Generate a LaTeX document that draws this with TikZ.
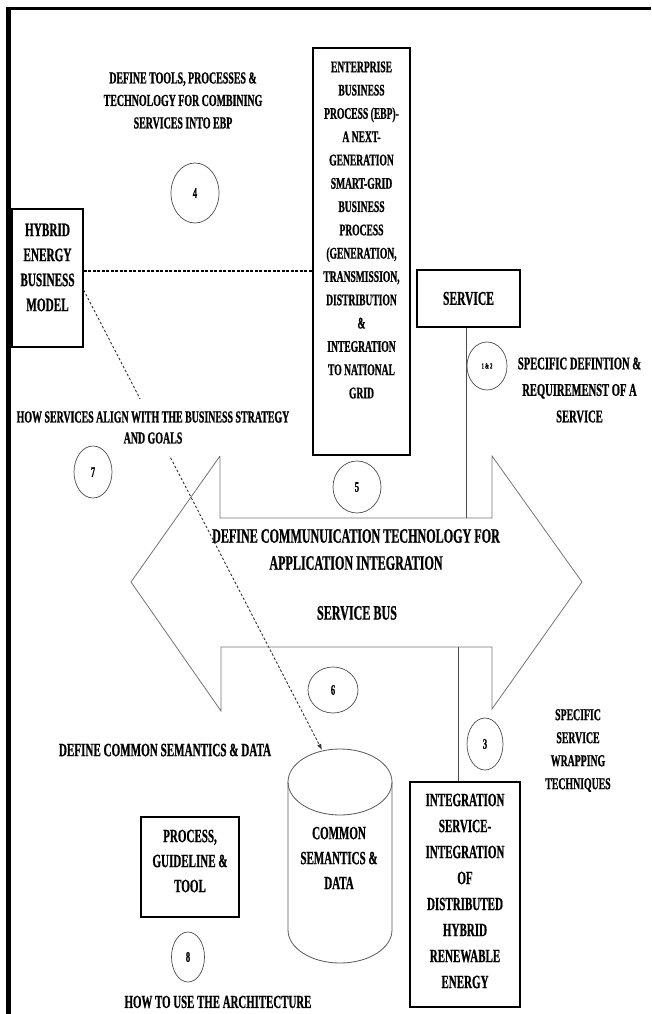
\documentclass[tikz,border=0pt]{standalone}
\usepackage{fontspec}
\setmainfont{Liberation Serif}[FakeStretch=0.59, BoldFeatures={FakeBold=0.8}]
\usetikzlibrary{arrows.meta,shapes.geometric}
\newcommand\fsz[2]{\fontsize{#1}{#2}\selectfont}
\tikzset{
  boxnode/.style={draw=black, line width=1.3pt, inner sep=0pt},
  lbl/.style={align=center, inner sep=0pt, text=black},
  numc/.style={ellipse, draw=black!70, line width=0.7pt, inner sep=0pt, font=\bfseries\fsz{14.5}{14.5}},
  busline/.style={draw=black!55, line width=0.8pt},
  vline/.style={draw=black!70, line width=0.6pt},
  cylline/.style={draw=black!65, line width=0.8pt},
  bizdash/.style={draw=black, line width=1.2pt, dash pattern=on 3pt off 1.5pt},
  arrdash/.style={draw=black!80, line width=0.9pt, dash pattern=on 2.5pt off 2pt, -{Latex[length=6pt,width=4.5pt]}}
}
\begin{document}
\begin{tikzpicture}[x=1pt,y=-1pt]
\useasboundingbox (0,0) rectangle (651,1014);
% frame
\draw[line width=3.5pt] (5.5,8.5) -- (651,8.5);
\draw[line width=5pt] (8,6.75) -- (8,1014);

% service bus double arrow
\draw[busline] (220,456) -- (220,518) -- (492,518) -- (492,456) -- (582,582) -- (492,709) -- (492,647) -- (221,647) -- (221,711) -- (131,582) -- cycle;
\coordinate (bustop) at (466,518);
\coordinate (busbot) at (458,647);

% boxes
\node[boxnode, minimum width=71pt, minimum height=138pt] (hebm) at (47.5,278) {};
\node[lbl, font=\bfseries\fsz{19}{25}] (hebmtxt) at (47.5,267.5) {HYBRID\\ENERGY\\BUSINESS\\MODEL};

\node[boxnode, minimum width=97pt, minimum height=407pt] (ebp) at (361.5,251.5) {};
\node[lbl, font=\bfseries\fsz{16.2}{23.3}] (ebptxt) at (361.5,230) {ENTERPRISE\\BUSINESS\\PROCESS (EBP)-\\A NEXT-\\GENERATION\\SMART-GRID\\BUSINESS\\PROCESS\\(GENERATION,\\TRANSMISSION,\\DISTRIBUTION\\\&\\INTEGRATION\\TO NATIONAL\\GRID};

\node[boxnode, minimum width=103pt, minimum height=57pt, font=\bfseries\fsz{19.6}{22}] (svc) at (468.5,298.5) {SERVICE};

\node[boxnode, minimum width=110pt, minimum height=225pt] (intg) at (465,894.5) {};
\node[lbl, font=\bfseries\fsz{18.7}{26}] (intgtxt) at (465,891) {INTEGRATION\\SERVICE-\\INTEGRATION\\OF\\DISTRIBUTED\\HYBRID\\RENEWABLE\\ENERGY};

\node[boxnode, minimum width=98pt, minimum height=100pt] (proc) at (190,867) {};
\node[lbl, font=\bfseries\fsz{18.7}{25}] (proctxt) at (190,861) {PROCESS,\\GUIDELINE \&\\TOOL};

% cylinder
\draw[cylline] (288,782) -- (288,930) arc[start angle=180, end angle=360, x radius=52pt, y radius=33pt] -- (392,782);
\draw[cylline] (340,782) ellipse[x radius=52pt, y radius=33pt];
\node[lbl, font=\bfseries\fsz{18.6}{25}] (csd) at (339,858) {COMMON\\SEMANTICS \&\\DATA};

% connectors
\draw[bizdash] (hebm.east |- 0,271) -- (ebp.west |- 0,271);
\draw[vline] (466,0 |- svc.south) -- (bustop);
\draw[vline] (busbot) -- (busbot |- intg.north);
\coordinate (dstart) at (hebm.east |- 0,290);
\coordinate (dend) at (322,750);
\draw[arrdash] (dstart) -- (dend);

% labels
\node[lbl, font=\bfseries\fsz{16.8}{22.5}] (t4) at (183,100.5) {DEFINE TOOLS, PROCESSES \&\\TECHNOLOGY FOR COMBINING\\SERVICES INTO EBP};
\node[lbl, font=\bfseries\fsz{17.9}{26.5}] (t12) at (579.5,390) {SPECIFIC DEFINTION \&\\REQUIREMENST OF A\\SERVICE};
\node[lbl, fill=white, inner xsep=2pt, inner ysep=12pt, font=\bfseries\fsz{16.8}{21}] (t7) at (153,427.5) {HOW SERVICES ALIGN WITH THE BUSINESS STRATEGY\\AND GOALS};
\node[lbl, font=\bfseries\fsz{20.5}{27}] (t5) at (356,549.5) {DEFINE COMMUNUICATION TECHNOLOGY FOR\\APPLICATION INTEGRATION};
\node[lbl, font=\bfseries\fsz{20.5}{22}] (tbus) at (357,613) {SERVICE BUS};
\node[lbl, font=\bfseries\fsz{16.6}{23}] (t3) at (578,750.5) {SPECIFIC\\SERVICE\\WRAPPING\\TECHNIQUES};
\node[lbl, font=\bfseries\fsz{18.8}{22}] (t6) at (165,750) {DEFINE COMMON SEMANTICS \& DATA};
\node[lbl, font=\bfseries\fsz{18.4}{22}] (t8) at (218,1002) {HOW TO USE THE ARCHITECTURE};

% numbered circles
\node[numc, minimum width=48pt, minimum height=60pt] (c4) at (195,193) {4};
\node[numc, minimum width=40pt, minimum height=48pt, font=\bfseries\fsz{7.8}{7.8}] (c12) at (487,366) {1 \& 2};
\node[numc, minimum width=38pt, minimum height=52pt] (c7) at (93,472) {7};
\node[numc, minimum width=48pt, minimum height=52pt] (c5) at (357,487) {5};
\node[numc, minimum width=50pt, minimum height=46pt] (c6) at (333,690) {6};
\node[numc, minimum width=36pt, minimum height=52pt] (c3) at (485,744) {3};
\node[numc, minimum width=33pt, minimum height=50pt] (c8) at (188,957) {8};
\end{tikzpicture}
\end{document}
